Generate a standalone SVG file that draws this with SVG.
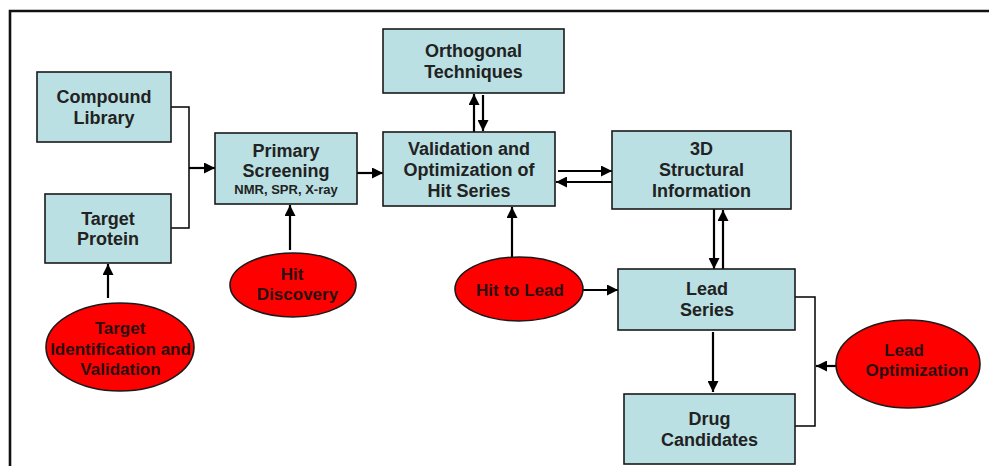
<svg xmlns="http://www.w3.org/2000/svg" width="989" height="466" viewBox="0 0 989 466">
<defs>
<marker id="ah" viewBox="0 0 10 10" refX="10" refY="5" markerWidth="12" markerHeight="11" markerUnits="userSpaceOnUse" orient="auto">
<path d="M0,0 L10,5 L0,10 Z" fill="#000"/>
</marker>
</defs>
<style>
.box{fill:#BAE0E3;stroke:#1a1a1a;stroke-width:1.6}
.ell{fill:#FF0000;stroke:#1a1a1a;stroke-width:1.6}
.t{font-family:"Liberation Sans",Arial,sans-serif;font-weight:bold;font-size:18px;fill:#222;text-anchor:middle}
.s{font-size:13px}
.e{font-size:17px;fill:#2a1010}
.c{fill:none;stroke:#000;stroke-width:2.2}
.b{fill:none;stroke:#000;stroke-width:1.5}
</style>
<rect width="989" height="466" fill="#fff"/>
<path d="M10,470 V11 H995" fill="none" stroke="#111" stroke-width="2.6"/>

<g id="connectors">
<path class="b" d="M171,107 H189 V228 H171"/>
<path class="c" d="M189,168 H215" marker-end="url(#ah)"/>
<path class="c" d="M357,173 H383" marker-end="url(#ah)"/>
<path class="c" d="M474,132 V94" marker-end="url(#ah)"/>
<path class="c" d="M483,95 V131" marker-end="url(#ah)"/>
<path class="c" d="M558,171 H612" marker-end="url(#ah)"/>
<path class="c" d="M612,182 H556" marker-end="url(#ah)"/>
<path class="c" d="M714,209 V269" marker-end="url(#ah)"/>
<path class="c" d="M723,269 V210" marker-end="url(#ah)"/>
<path class="c" d="M713,332 V392" marker-end="url(#ah)"/>
<path class="b" d="M795,297 H815 V426 H795"/>
<path class="c" d="M836,366 H816" marker-end="url(#ah)"/>
<path class="c" d="M108,298 V264" marker-end="url(#ah)"/>
<path class="c" d="M290,250 V205" marker-end="url(#ah)"/>
<path class="c" d="M512,258 V207" marker-end="url(#ah)"/>
<path class="c" d="M583,290 H618" marker-end="url(#ah)"/>
</g>

<g id="compound-library">
<rect class="box" x="37" y="72" width="134" height="70"/>
<text class="t" x="104" y="103">Compound</text>
<text class="t" x="104" y="124">Library</text>
</g>
<g id="target-protein">
<rect class="box" x="45" y="194" width="126" height="69"/>
<text class="t" x="108" y="225">Target</text>
<text class="t" x="108" y="245">Protein</text>
</g>
<g id="primary-screening">
<rect class="box" x="215" y="133" width="142" height="71"/>
<text class="t" x="286" y="157">Primary</text>
<text class="t" x="286" y="177">Screening</text>
<text class="t s" x="286" y="194">NMR, SPR, X-ray</text>
</g>
<g id="orthogonal-techniques">
<rect class="box" x="383" y="29" width="181" height="64"/>
<text class="t" x="473.5" y="57">Orthogonal</text>
<text class="t" x="473.5" y="78">Techniques</text>
</g>
<g id="validation">
<rect class="box" x="383" y="132" width="172" height="74"/>
<text class="t" x="469" y="155">Validation and</text>
<text class="t" x="469" y="176">Optimization of</text>
<text class="t" x="469" y="197">Hit Series</text>
</g>
<g id="structural-info">
<rect class="box" x="612" y="131" width="179" height="78"/>
<text class="t" x="701.5" y="155">3D</text>
<text class="t" x="701.5" y="176">Structural</text>
<text class="t" x="701.5" y="197">Information</text>
</g>
<g id="lead-series">
<rect class="box" x="618" y="269" width="177" height="61"/>
<text class="t" x="707" y="295">Lead</text>
<text class="t" x="707" y="316">Series</text>
</g>
<g id="drug-candidates">
<rect class="box" x="624" y="394" width="171" height="70"/>
<text class="t" x="709.5" y="425">Drug</text>
<text class="t" x="709.5" y="446">Candidates</text>
</g>

<g id="target-identification">
<ellipse class="ell" cx="120" cy="347" rx="74" ry="44"/>
<text class="t e" x="120" y="334">Target</text>
<text class="t e" x="120.5" y="355">Identification and</text>
<text class="t e" x="120.5" y="375">Validation</text>
</g>
<g id="hit-discovery">
<ellipse class="ell" cx="293" cy="285" rx="63" ry="32"/>
<text class="t e" x="292" y="280">Hit</text>
<text class="t e" x="297.5" y="300">Discovery</text>
</g>
<g id="hit-to-lead">
<ellipse class="ell" cx="519" cy="289" rx="64" ry="32"/>
<text class="t e" x="520" y="296">Hit to Lead</text>
</g>
<g id="lead-optimization">
<ellipse class="ell" cx="908" cy="364" rx="72" ry="44"/>
<text class="t e" x="904" y="356">Lead</text>
<text class="t e" x="917" y="376">Optimization</text>
</g>
</svg>
